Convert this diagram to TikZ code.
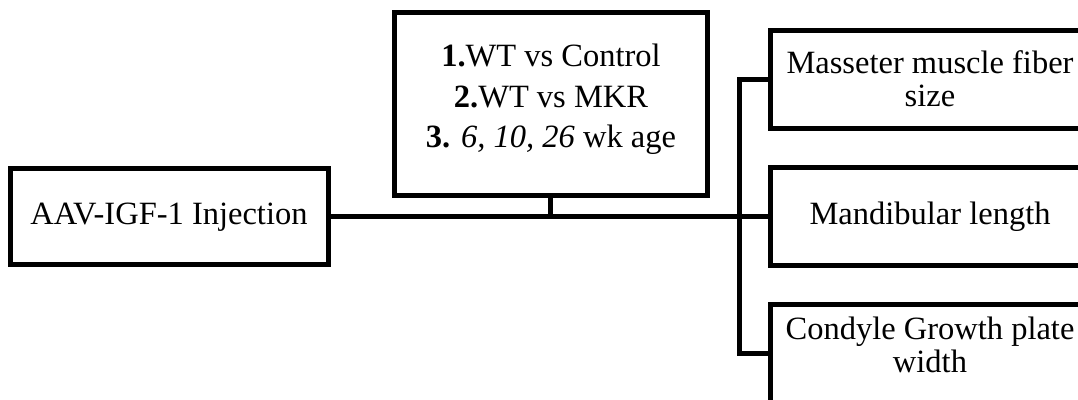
\documentclass[tikz,border=0pt]{standalone}
\usepackage{fontspec}
\setmainfont{Liberation Serif}
\begin{document}
\begin{tikzpicture}[x=1pt,y=-1pt,
  box/.style={draw, line width=5pt, inner sep=0pt},
  txt/.style={inner sep=0pt, align=center, font=\fontsize{32.5}{33}\selectfont},
  link/.style={draw, line width=5pt}]
\useasboundingbox (0,0) rectangle (1078,399);
\clip (0,0) rectangle (1078,399);
% boxes
\node[box, minimum width=318pt, minimum height=96pt] (inj) at (169,216) {};
\node[box, minimum width=313pt, minimum height=183pt] (mid) at (550.5,103.5) {};
\node[box, minimum width=320pt, minimum height=98pt] (b1) at (930,79) {};
\node[box, minimum width=320pt, minimum height=98pt] (b2) at (930,216) {};
\node[box, minimum width=320pt, minimum height=98pt] (b3) at (930,353) {};
% texts
\node[txt] (injt) at (169,217) {AAV-IGF-1 Injection};
\node[txt, font=\fontsize{32.5}{40.5}\selectfont] (midt) at (551,99.5)
  {\textbf{1.}WT vs Control\\\textbf{2.}WT vs MKR\\\textbf{3.} \textit{6, 10, 26} wk age};
\node[txt] (b1t) at (930,79) {Masseter muscle fiber\\size};
\node[txt] (b2t) at (930,217) {Mandibular length};
\node[txt] (b3t) at (930,345) {Condyle Growth plate\\width};
% connectors
\coordinate (trunk) at (739,216);
\draw[link] (inj.east) -- (b2.west);
\draw[link] (mid.south) -- (mid.south |- inj.east);
\draw[link] (b1.west) -- (b1.west -| trunk) -- (b3.west -| trunk) -- (b3.west);
\end{tikzpicture}
\end{document}
